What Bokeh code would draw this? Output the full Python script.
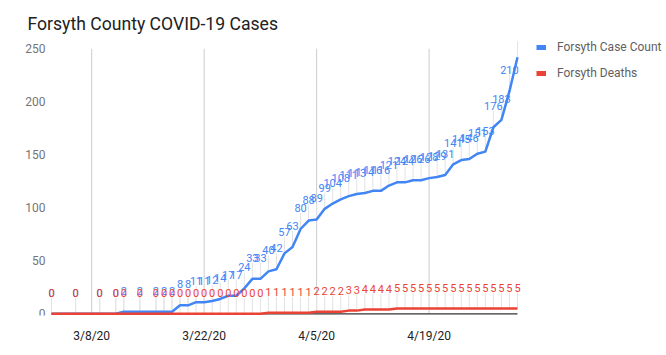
import pandas as pd
from bokeh.plotting import figure
from bokeh.core.properties import value
from bokeh.models import (Range1d, FixedTicker, ColumnDataSource, Legend, LegendItem, Label)
from bokeh.embed import file_html
from bokeh.resources import INLINE

# ---------------- data ----------------
dates = ["3/3/20", "3/6/20", "3/9/20", "3/11/20", "3/12/20", "3/14/20",
         "3/16/20", "3/17/20", "3/18/20", "3/19/20", "3/20/20", "3/21/20", "3/22/20",
         "3/23/20", "3/24/20", "3/25/20", "3/26/20", "3/27/20", "3/28/20", "3/29/20",
         "3/30/20", "3/31/20",
         "4/1/20", "4/2/20", "4/3/20", "4/4/20", "4/5/20", "4/6/20", "4/7/20", "4/8/20",
         "4/9/20", "4/10/20", "4/11/20", "4/12/20", "4/13/20", "4/14/20", "4/15/20",
         "4/16/20", "4/17/20", "4/18/20", "4/19/20", "4/20/20", "4/21/20", "4/22/20",
         "4/23/20", "4/24/20", "4/25/20", "4/26/20", "4/27/20", "4/28/20", "4/29/20",
         "4/30/20"]
case_count = [0, 0, 0, 0, 2, 2,
              2, 2, 2, 8, 8, 11, 11,
              12, 14, 17, 17, 24, 33, 33,
              40, 42,
              57, 63, 80, 88, 89, 99, 104, 108,
              111, 113, 114, 116, 116, 121, 124,
              124, 126, 126, 128, 129, 131, 141,
              145, 146, 151, 153, 176, 183, 210,
              242]
deaths = [0, 0, 0, 0, 0, 0,
          0, 0, 0, 0, 0, 0, 0,
          0, 0, 0, 0, 0, 0, 0,
          1, 1,
          1, 1, 1, 1, 2, 2, 2, 2,
          3, 3, 4, 4, 4, 4, 5,
          5, 5, 5, 5, 5, 5, 5,
          5, 5, 5, 5, 5, 5, 5,
          5]
tick_labels = ["3/8/20", "3/22/20", "4/5/20", "4/19/20"]
y_ticks = [0, 50, 100, 150, 200, 250]
series_names = ["Forsyth Case Count", "Forsyth Deaths"]
title_text = "Forsyth County COVID-19 Cases"

# ---------------- styling / geometry ----------------
BLUE = "#4285f4"
RED = "#ea4335"
FONT = "Roboto"

base = pd.Timestamp("2020-03-08")
xd = [int(v) for v in (pd.to_datetime(dates, format="%m/%d/%y") - base).days]
tx = [int(v) for v in (pd.to_datetime(tick_labels, format="%m/%d/%y") - base).days]

W, H = 666, 355
MB = 40                      # bottom panel (x axis labels)
FH = H - MB                  # frame height (frame spans the whole canvas above the x axis)
PLOT_L, PLOT_R = 51, 517     # plotting area, px
PLOT_T, PLOT_B = 48.3, 313.3
ppd = (PLOT_R - PLOT_L) / (max(xd) - min(xd))
ppu = (PLOT_B - PLOT_T) / (y_ticks[-1] - y_ticks[0])
xs = min(xd) - PLOT_L / ppd
xe = max(xd) + (W - PLOT_R) / ppd
ys = y_ticks[0] - (FH - PLOT_B) / ppu
ye = y_ticks[0] + PLOT_B / ppu
LAB_OFF = 21
lead = 16 / ppu


def label_texts(vals):
    # labels that would rise above the plotting area are hidden (as in the source chart)
    lim = PLOT_B - PLOT_T
    return [str(v) if (v - y_ticks[0]) * ppu + LAB_OFF + 6 <= lim else "" for v in vals]


p = figure(width=W, height=H, output_backend="svg", toolbar_location=None,
           x_range=Range1d(xs, xe), y_range=Range1d(ys, ye), y_axis_location=None,
           min_border_left=0, min_border_right=0, min_border_top=0, min_border_bottom=MB)
p.background_fill_color = "white"
p.border_fill_color = "white"
p.outline_line_color = None
p.grid.visible = False

# x axis
p.xaxis.ticker = FixedTicker(ticks=tx)
p.xaxis.major_label_overrides = {t: l for t, l in zip(tx, tick_labels)}
p.xaxis.axis_line_color = None
p.xaxis.major_tick_line_color = None
p.xaxis.minor_tick_line_color = None
p.xaxis.major_label_standoff = 7
p.xaxis.major_label_text_font = FONT
p.xaxis.major_label_text_font_size = "12px"
p.xaxis.major_label_text_color = "#222222"

# title
p.add_layout(Label(x=27, y=FH - 23, x_units="screen", y_units="screen", text=title_text,
                   text_font=FONT, text_font_size="17.6px", text_color="#212121",
                   text_align="left", text_baseline="alphabetic"))

# y tick labels
p.text(x=[xs] * len(y_ticks), y=y_ticks, text=[str(t) for t in y_ticks], x_offset=PLOT_L - 6,
       text_align="right", text_baseline="middle", text_font=value(FONT),
       text_font_size="12px", text_color="#757575")

# vertical gridlines at the date ticks
p.segment(x0=tx, y0=[y_ticks[0]] * len(tx), x1=tx, y1=[y_ticks[-1]] * len(tx),
          line_color="#cccccc", line_width=1)

# data sources
src_c = ColumnDataSource(dict(x=xd, y=case_count, y2=[v + lead for v in case_count],
                              lab=label_texts(case_count)))
src_d = ColumnDataSource(dict(x=xd, y=deaths, y2=[v + lead for v in deaths],
                              lab=label_texts(deaths)))

# leader lines
p.segment(x0="x", y0="y", x1="x", y1="y2", source=src_c, line_color="#e3e3e3", line_width=1)
p.segment(x0="x", y0="y", x1="x", y1="y2", source=src_d, line_color="#e3e3e3", line_width=1)

# baseline
p.segment(x0=[xd[0]], y0=[y_ticks[0]], x1=[xd[-1]], y1=[y_ticks[0]],
          line_color="#333333", line_width=1.2)

# series lines
p.line("x", "y", source=src_c, line_color=BLUE, line_width=2.5, line_join="round")
p.line("x", "y", source=src_d, line_color=RED, line_width=2.5, line_join="round")

# data labels
p.text("x", "y", text="lab", source=src_c, text_color=BLUE, text_font_size="11px",
       text_font=value(FONT), text_align="center", text_baseline="middle", y_offset=-LAB_OFF)
p.text("x", "y", text="lab", source=src_d, text_color=RED, text_font_size="11px",
       text_font=value(FONT), text_align="center", text_baseline="middle", y_offset=-LAB_OFF)

# legend swatches (undrawn NaN renderers used only for the legend)
nan = float("nan")
lg_b = p.line(x=[xd[0], xd[0]], y=[nan, nan], line_color=BLUE, line_width=5)
lg_r = p.line(x=[xd[0], xd[0]], y=[nan, nan], line_color=RED, line_width=5)
legend = Legend(items=[LegendItem(label=series_names[0], renderers=[lg_b]),
                       LegendItem(label=series_names[1], renderers=[lg_r])],
                location=(536, FH - 83))
legend.glyph_width = 10
legend.glyph_height = 20
legend.label_height = 20
legend.spacing = 6
legend.padding = 0
legend.margin = 0
legend.label_standoff = 11
legend.border_line_color = None
legend.background_fill_alpha = 0
legend.label_text_font = FONT
legend.label_text_font_size = "12px"
legend.label_text_color = "#5f5f5f"
p.add_layout(legend, "center")

open("out.html", "w").write(file_html(p, INLINE))
